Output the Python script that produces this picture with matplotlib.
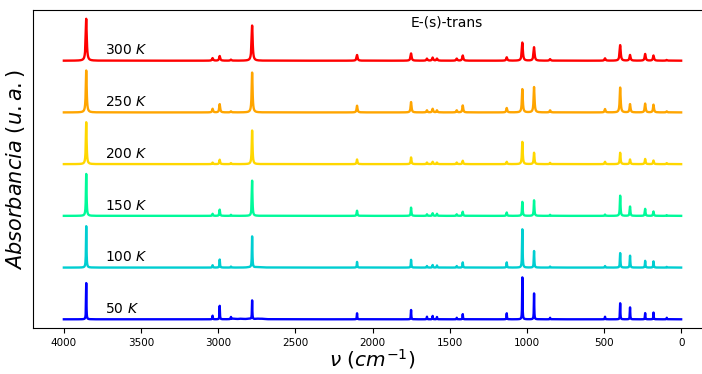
import numpy as np
import matplotlib
matplotlib.use("Agg")
import matplotlib.pyplot as plt

##### peak positions (cm^-1)
peak_pos = [3855, 3036, 2990, 2917, 2780, 2100, 1750, 1647, 1610, 1582, 1454,
            1415, 1130, 1029, 953, 849, 493, 395, 331, 233, 179, 93]

##### peak heights for each temperature (same order as peak_pos)
h_300 = [0.81, 0.05, 0.09, 0.02, 0.68, 0.11, 0.14, 0.04, 0.06, 0.04, 0.04,
         0.10, 0.065, 0.35, 0.26, 0.03, 0.045, 0.30, 0.11, 0.13, 0.10, 0.015]
h_250 = [0.81, 0.07, 0.16, 0.02, 0.77, 0.13, 0.20, 0.04, 0.07, 0.04, 0.04,
         0.135, 0.085, 0.45, 0.49, 0.04, 0.065, 0.48, 0.16, 0.17, 0.15, 0.02]
h_200 = [0.81, 0.03, 0.085, 0.02, 0.65, 0.09, 0.13, 0.03, 0.045, 0.03, 0.03,
         0.065, 0.045, 0.43, 0.22, 0.025, 0.045, 0.22, 0.09, 0.10, 0.07, 0.02]
h_150 = [0.81, 0.04, 0.12, 0.02, 0.68, 0.10, 0.16, 0.03, 0.05, 0.04, 0.03,
         0.08, 0.065, 0.27, 0.30, 0.02, 0.025, 0.39, 0.18, 0.135, 0.085, 0.015]
h_100 = [0.80, 0.045, 0.155, 0.02, 0.60, 0.11, 0.15, 0.03, 0.05, 0.04, 0.03,
         0.10, 0.10, 0.74, 0.32, 0.02, 0.03, 0.28, 0.23, 0.13, 0.12, 0.015]
h_50 = [0.70, 0.07, 0.26, 0.04, 0.36, 0.116, 0.18, 0.05, 0.065, 0.045, 0.03,
        0.10, 0.116, 0.81, 0.50, 0.03, 0.05, 0.31, 0.23, 0.12, 0.13, 0.03]

temps = [50, 100, 150, 200, 250, 300]
heights = [h_50, h_100, h_150, h_200, h_250, h_300]
hwhm = [1.5, 2.0, 2.5, 3.0, 3.5, 4.0]
colors = ["#0000ff", "#00ced1", "#00fa9a", "#ffd700", "#ffa500", "#ff0000"]

##### weak broad band near 2900-2700 at low T
band_pos = [2900, 2850, 2800, 2740, 2710]
band_50 = [0.012, 0.01, 0.01, 0.01, 0.008]
band_100 = [0.0, 0.0, 0.006, 0.006, 0.005]

nu = np.arange(0.0, 4000.01, 0.25)


def spectrum(hs, g):
    y = np.zeros_like(nu)
    for x0, h in zip(peak_pos, hs):
        y += h * g**2 / ((nu - x0)**2 + g**2)
    return y


def band(hs):
    y = np.zeros_like(nu)
    for x0, h in zip(band_pos, hs):
        y += h * 15.0**2 / ((nu - x0)**2 + 15.0**2)
    return y


fig = plt.figure(figsize=(7.02, 3.74), dpi=100)
ax = fig.add_axes([33 / 702, 45.7 / 374, 679 / 702, 318.3 / 374])

for i, (T, hs) in enumerate(zip(temps, heights)):
    y = spectrum(hs, hwhm[i]) + i
    if T == 50:
        y += band(band_50)
    if T == 100:
        y += band(band_100)
    ax.plot(nu, y, color=colors[i], lw=1.7)
    ax.text(3735, i + 0.12, "%d $K$" % T, fontsize=10, ha="left", va="baseline")

ax.text(1750, 5.66, "E-(s)-trans", fontsize=10, ha="left", va="baseline")

ax.set_xlim(4200, -200)
ax.set_ylim(-0.174, 5.98)
ax.set_yticks([])
ax.set_xticks([4000, 3500, 3000, 2500, 2000, 1500, 1000, 500, 0])
ax.tick_params(axis="x", labelsize=7.5)
ax.set_xlabel(r"$\nu\ (cm^{-1})$", fontsize=14.5, labelpad=-0.5)
ax.set_ylabel(r"$Absorbancia\ (u.a.)$", fontsize=15)

plt.savefig("out.png", dpi=100)
